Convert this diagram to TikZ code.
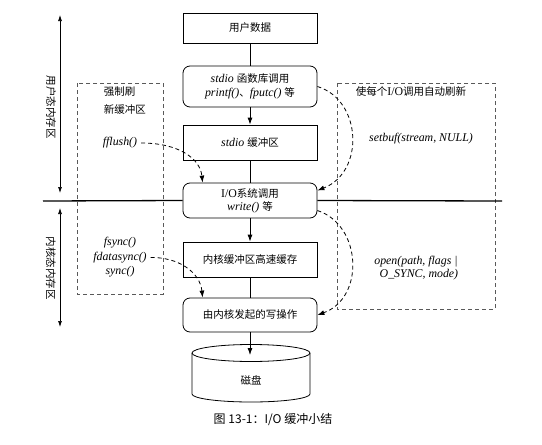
\documentclass[tikz,border=0pt]{standalone}
\usepackage{fontspec}
\setmainfont[Scale=1.13]{Liberation Serif}
\newfontfamily\cjk{Noto Sans CJK SC}
\usetikzlibrary{arrows.meta,calc}
\begin{document}
\begin{tikzpicture}[x=1pt,y=-1pt,
 font=\fontsize{10.5}{13}\selectfont,
 box/.style={draw, line width=0.8pt, minimum width=134pt, inner sep=0pt, align=center},
 rbox/.style={box, rounded corners=7pt},
 link/.style={line width=0.8pt},
 arr/.style={link, -{Latex[length=7pt,width=5pt]}},
 darr/.style={arr, dash pattern=on 4pt off 3pt},
 frame/.style={draw=black!65, line width=0.6pt, dash pattern=on 4pt off 3pt},
 dbl/.style={line width=0.7pt, {Latex[length=6pt,width=4pt]}-{Latex[length=6pt,width=4pt]}}
]
\useasboundingbox (0,0) rectangle (542,445);

% dashed frames
\draw[frame] (77,83) rectangle (163,294);
\draw[frame] (337,83) rectangle (495,309);

% main boxes
\node[box, minimum height=30pt] (user) at (250,28) {\cjk 用户数据};
\node[rbox, minimum height=41pt] (lib) at (250,86.5) {\textit{stdio} {\cjk 函数库调用}\\[1pt] \textit{printf()}{\cjk 、}\textit{fputc()} {\cjk 等}};
\node[box, minimum height=35pt] (buf) at (250,142.5) {\textit{stdio} {\cjk 缓冲区}};
\node[rbox, minimum height=35pt, fill=white] (sys) at (250,200.5) {I/O{\cjk 系统调用}\\ \textit{write()} {\cjk 等}};
\node[box, minimum height=35pt] (kc) at (250,259.5) {\cjk 内核缓冲区高速缓存};
\node[rbox, minimum height=34pt] (kw) at (250,315) {\cjk 由内核发起的写操作};

% disk
\draw[link] (251,353) ellipse [x radius=59pt, y radius=8.5pt];
\draw[link] (192,353) -- (192,394) arc[start angle=180, end angle=360, x radius=59pt, y radius=8pt] -- (310,353);
\node (disk) at (251,380) {\cjk 磁盘};
\coordinate (disktop) at (250,355);

% horizontal separator
\coordinate (hl) at (43,201);
\coordinate (hr) at (502,201);
\draw[line width=1.3pt] (hl) -- (sys.west);
\draw[line width=1.3pt] (sys.east) -- (hr);

% vertical connectors
\draw[link] (user) -- (lib);
\draw[arr] (lib) -- (buf);
\draw[link] (buf) -- (sys);
\draw[arr] (sys) -- (kc);
\draw[link] (kc) -- (kw);
\draw[arr] (kw) -- (disktop);

% left labels and arrows
\coordinate (u1) at (60,15);
\coordinate (u2) at (60,193);
\coordinate (k1) at (60,208);
\coordinate (k2) at (60,327);
\draw[dbl] (u1) -- (u2);
\draw[dbl] (k1) -- (k2);
\node[rotate=-90] (ulabel) at (51,107) {\cjk 用户态内存区};
\node[rotate=-90] (klabel) at (51,268) {\cjk 内核态内存区};

% left frame texts
\node[anchor=west] (force) at (100,92) {\cjk 强制刷};
\node[anchor=west] (newbuf) at (100,110) {\cjk 新缓冲区};
\node (fflush) at (120,143) {\textit{fflush()}};
\node (fsync) at (120,243) {\textit{fsync()}};
\node (fdatasync) at (120,257.5) {\textit{fdatasync()}};
\node (sync) at (120,272) {\textit{sync()}};

% right frame texts
\node (auto) at (411,92) {{\cjk 使每个}I/O{\cjk 调用自动刷新}};
\node (setbuf) at (421,139) {\textit{setbuf(stream, NULL)}};
\node[align=center] (open) at (416,268) {\textit{open(path, flags |}\\ \textit{\ \ O\_SYNC, mode)}};

% dashed curved arrows
\draw[darr] (lib.east) .. controls (362,100) and (365,172) .. ($(sys.east)+(0,-10)$);
\draw[darr] ($(sys.east)+(0,10)$) .. controls (362,225) and (365,298) .. (kw.east);
\draw[darr] (fflush.east) .. controls (178,143) and (200,158) .. ($(sys.north west)+(20,0)$);
\draw[darr] (fdatasync.east) .. controls (178,257) and (200,272) .. ($(kw.north west)+(20,0)$);

% caption
\node (caption) at (273,420) {\cjk\fontsize{12}{14}\selectfont 图 13-1：I/O 缓冲小结};
\end{tikzpicture}
\end{document}
